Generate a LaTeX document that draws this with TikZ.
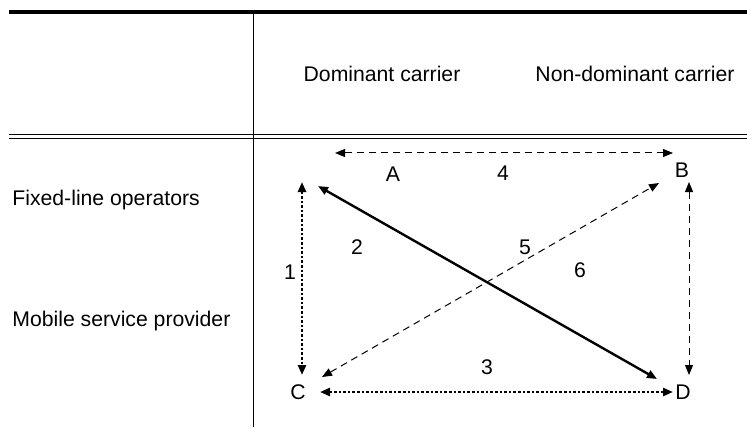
\documentclass[tikz,border=0pt]{standalone}
\usepackage{fontspec}
\setmainfont{Liberation Sans}
\usetikzlibrary{arrows.meta}

\begin{document}
\begin{tikzpicture}[x=0.5pt, y=-0.5pt, >={Triangle[length=5pt,width=4pt]},
  every cell/.style={font=\fontsize{10.6}{12.7}\selectfont, inner sep=0pt},
  dash link/.style={<->, line width=0.5pt, dash pattern=on 3.5pt off 2.5pt},
  dot link/.style={<->, line width=1.3pt, dash pattern=on 1.3pt off 1pt},
  full link/.style={<->, line width=1.2pt}]

	\useasboundingbox (0,0) rectangle (747,427);

	%rules
	\draw [line width=1.65pt] (9,12) -- (747,12);
	\draw [line width=0.5pt] (9,135) -- (747,135);
	\draw [line width=0.5pt] (9,138.5) -- (747,138.5);
	\draw [line width=0.5pt] (253,12) -- (253,427);

	%headers
	\node [every cell, anchor=base] (col-1) at (382,82) {Dominant carrier};
	\node [every cell, anchor=base] (col-2) at (635,82) {Non-dominant carrier};
	\node [every cell, anchor=base west] (row-1) at (12,205) {Fixed-line operators};
	\node [every cell, anchor=base west] (row-2) at (12,326) {Mobile service provider};

	%corners
	\foreach \n/\x/\y in {A/393/174, B/682/170, C/298/392, D/683/392}
	  \node [every cell] (\n) at (\x,\y) {\n};

	%numbers
	\foreach \l/\x/\y in {1/290/272, 2/357/247, 3/487/367, 4/503/173, 5/525/247, 6/580/270}
	  \node [every cell] (num-\l) at (\x,\y) {\l};

	%arrow ends
	\coordinate (top-w) at (335,153);
	\coordinate (top-e) at (673,153);
	\coordinate (left-n) at (302,182);
	\coordinate (left-s) at (302,375);
	\coordinate (right-n) at (689,182);
	\coordinate (right-s) at (689,375);
	\coordinate (bot-w) at (320,392);
	\coordinate (bot-e) at (673,392);
	\coordinate (diag-nw) at (318,186);
	\coordinate (diag-se) at (657,379);
	\coordinate (diag-sw) at (322,377);
	\coordinate (diag-ne) at (659,183);

	\draw [dash link] (top-w) -- (top-e);
	\draw [dot link] (left-n) -- (left-s);
	\draw [full link] (diag-nw) -- (diag-se);
	\draw [dash link] (diag-sw) -- (diag-ne);
	\draw [dash link] (right-n) -- (right-s);
	\draw [dot link] (bot-w) -- (bot-e);
\end{tikzpicture}
\end{document}
